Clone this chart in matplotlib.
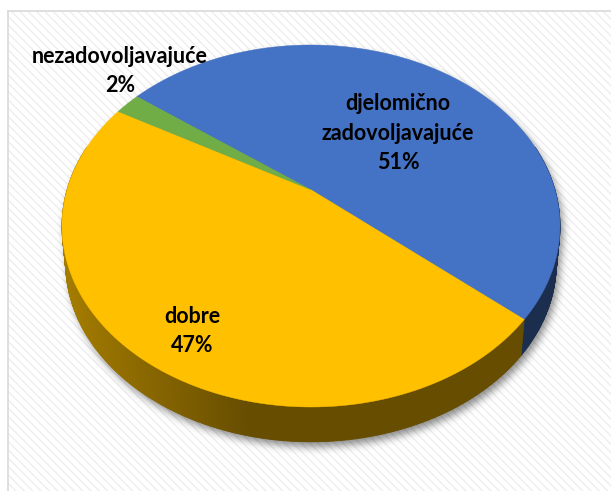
import numpy as np
import matplotlib
matplotlib.use('Agg')
import matplotlib.pyplot as plt
from matplotlib.patches import Polygon, Rectangle
from matplotlib.lines import Line2D

# ---- data ----
categories = ['djelomično\nzadovoljavajuće', 'dobre', 'nezadovoljavajuće']
values = [51, 47, 2]
pct_labels = ['51%', '47%', '2%']
colors = ['#4472C4', '#FFC000', '#70AD47']

# ---- layout (pixels) ----
W, H = 611, 491
start_angle = 143.1          # first slice starts here, slices go clockwise
cx, cy, rx, ry = 311.0, 226.0, 249.0, 181.0
v = 0.2                      # perspective shift of the pie centre
depth = 37.5
bscale = 0.985               # bottom rim appears slightly smaller (perspective)
label_pos = [(398, 133), (192, 331), (120, 71)]

plt.rcParams['hatch.color'] = '#EEEEEE'
plt.rcParams['hatch.linewidth'] = 1.0

fig = plt.figure(figsize=(W / 100, H / 100), dpi=100)
ax = fig.add_axes([0, 0, 1, 1])
ax.set_xlim(0, W)
ax.set_ylim(H, 0)
ax.axis('off')

ax.add_patch(Rectangle((0, 0), W, H, facecolor='white', edgecolor='none', zorder=0))
ax.add_patch(Rectangle((8, 11), W, H, facecolor='white', edgecolor='#EEEEEE',
                       hatch='\\\\\\\\', lw=0, zorder=0.5))
ax.add_line(Line2D([7.5, 7.5], [11, H], color='#D9D9D9', lw=1.2, zorder=0.6))
ax.add_line(Line2D([7.5, W], [11, 11], color='#D9D9D9', lw=1.2, zorder=0.6))


def proj(phi_deg):
    p = np.radians(phi_deg)
    s, c = np.sin(p), np.cos(p)
    xp = c * np.sqrt(1 - v * v) / (1 + v * s)
    yp = (s + v) / (1 + v * s)
    return cx + rx * xp, cy - ry * yp


def bottom(px, py):
    return cx + bscale * (px - cx), cy + depth + bscale * (py - cy)


apex = (cx, cy - ry * v)

# ---- shadow ----
yy, xx = np.mgrid[0:H, 0:W] + 0.5
sx, sy = 3.0, 5.0
mask = np.zeros((H, W), dtype=bool)
for t in np.linspace(0, 1, 25):
    sc = 1 - t * (1 - bscale)
    ccy = cy + t * depth + sy
    ccx = cx + sx
    mask |= ((xx - ccx) / (rx * sc)) ** 2 + ((yy - ccy) / (ry * sc)) ** 2 <= 1
mask = mask.astype(float)
sig = 4.0
k = np.arange(-12, 13)
kern = np.exp(-k ** 2 / (2 * sig ** 2))
kern /= kern.sum()
blur = np.apply_along_axis(lambda r: np.convolve(r, kern, mode='same'), 1, mask)
blur = np.apply_along_axis(lambda r: np.convolve(r, kern, mode='same'), 0, blur)
rgba = np.zeros((H, W, 4))
rgba[..., 3] = 0.45 * blur
ax.imshow(rgba, extent=[0, W, H, 0], zorder=1, interpolation='bilinear')

# ---- slices ----
cum = np.concatenate([[0], np.cumsum(values)]) / np.sum(values) * 360.0
front_lo, front_hi = 165.0, 375.0


def shade(col, x):
    r, g, b = matplotlib.colors.to_rgb(col)
    f = np.interp(x, [70, 250], [0.64, 0.40])
    return (r * f, g * f, b * f)


for i, (val, col) in enumerate(zip(values, colors)):
    a0 = start_angle - cum[i]
    a1 = start_angle - cum[i + 1]
    # side (front rim)
    for kk in (-1, 0, 1):
        lo = max(a1, front_lo + 360 * kk)
        hi = min(a0, front_hi + 360 * kk)
        if hi > lo:
            n = max(int((hi - lo) / 0.5), 2)
            ph = np.linspace(lo, hi, n + 1)
            px, py = proj(ph)
            bx, by = bottom(px, py)
            for j in range(n):
                quad = [(px[j], py[j]), (px[j + 1], py[j + 1]),
                        (bx[j + 1], by[j + 1]), (bx[j], by[j])]
                c = shade(col, 0.5 * (px[j] + px[j + 1]))
                ax.add_patch(Polygon(quad, closed=True, facecolor=c, edgecolor=c,
                                     lw=0.6, zorder=2))
    # top face
    ph = np.linspace(a0, a1, 400)
    px, py = proj(ph)
    pts = [apex] + list(zip(px, py))
    ax.add_patch(Polygon(pts, closed=True, facecolor=col, edgecolor=col,
                         lw=0.3, zorder=3))

# ---- labels ----
for (x, y), cat, pl in zip(label_pos, categories, pct_labels):
    ax.text(x, y, cat + '\n' + pl, ha='center', va='center', fontsize=15.5,
            fontweight='bold', family=['Lato', 'DejaVu Sans'], color='black',
            linespacing=1.5, zorder=5)

fig.savefig('out.png', dpi=100)
